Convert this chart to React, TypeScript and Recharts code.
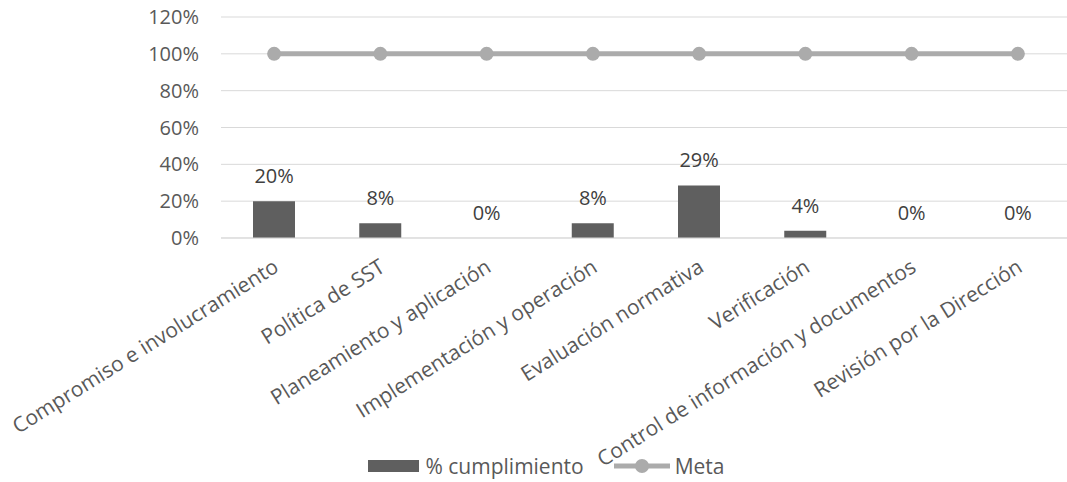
import React from "react";
import {
  ComposedChart,
  Bar,
  Line,
  XAxis,
  YAxis,
  CartesianGrid,
  Legend,
  LabelList,
} from "recharts";

const categories = [
  "Compromiso e involucramiento",
  "Política de SST",
  "Planeamiento y aplicación",
  "Implementación y operación",
  "Evaluación normativa",
  "Verificación",
  "Control de información y documentos",
  "Revisión por la Dirección",
];
const cumplimiento = [0.2, 0.08, 0, 0.08, 0.2857, 0.04, 0, 0];
const meta = [1, 1, 1, 1, 1, 1, 1, 1];
const yTicks = [0, 0.2, 0.4, 0.6, 0.8, 1, 1.2];

const data = categories.map((name, i) => ({
  name,
  cumplimiento: cumplimiento[i],
  meta: meta[i],
}));

const FONT = "'Open Sans', 'Segoe UI', sans-serif";
const pct = (v: any) => `${Math.round(Number(v) * 100)}%`;

const XTick = (props: any) => {
  const { x, y, payload } = props;
  return (
    <g transform={`translate(${x - 2},${y + 12}) rotate(-32)`}>
      <text
        x={0}
        y={0}
        dy="0.71em"
        textAnchor="end"
        fill="#595959"
        fontSize={21}
        fontFamily={FONT}
      >
        {payload.value}
      </text>
    </g>
  );
};

const LegendContent = (props: any) => {
  const { payload } = props;
  const items = (payload || []).filter((e: any) => e.type !== "none");
  return (
    <div
      style={{
        display: "flex",
        justifyContent: "center",
        alignItems: "center",
        fontFamily: FONT,
        fontSize: 21,
        color: "#595959",
        paddingLeft: 22,
        paddingTop: 12,
        height: 44,
        boxSizing: "border-box",
      }}
    >
      {items.map((entry: any, i: number) => (
        <div
          key={i}
          style={{ display: "flex", alignItems: "center", marginRight: i === 0 ? 30 : 0 }}
        >
          {entry.type === "rect" ? (
            <svg width={51} height={12} style={{ marginRight: 6 }}>
              <rect x={0} y={0} width={51} height={12} fill={entry.color} />
            </svg>
          ) : (
            <svg width={56} height={16} style={{ marginRight: 5 }}>
              <line x1={0} y1={8} x2={56} y2={8} stroke={entry.color} strokeWidth={5} />
              <circle cx={28} cy={8} r={7} fill={entry.color} />
            </svg>
          )}
          <span>{entry.value}</span>
        </div>
      ))}
    </div>
  );
};

export default function App() {
  return (
    <div
      style={{
        position: "absolute",
        left: 0,
        top: 0,
        width: 1067,
        height: 482,
        overflow: "hidden",
        background: "#fff",
      }}
    >
      <ComposedChart
        width={1071}
        height={482}
        data={data}
        margin={{ top: 17, right: 0, bottom: 0, left: 0 }}
      >
        <CartesianGrid vertical={false} stroke="#d9d9d9" strokeWidth={1} />
        <XAxis
          dataKey="name"
          interval={0}
          tickLine={false}
          axisLine={{ stroke: "#d9d9d9" }}
          height={200}
          tick={<XTick />}
        />
        <YAxis
          width={221}
          domain={[0, 1.2]}
          ticks={yTicks}
          tickFormatter={pct}
          axisLine={false}
          tickLine={false}
          tickSize={0}
          tickMargin={22}
          tick={{ fill: "#595959", fontSize: 20, fontFamily: FONT }}
        />
        <Legend verticalAlign="bottom" height={44} content={<LegendContent />} />
        <Bar
          dataKey="cumplimiento"
          name="% cumplimiento"
          fill="#5f5f5f"
          barSize={42}
          isAnimationActive={false}
          legendType="rect"
        />
        <Line
          dataKey="meta"
          name="Meta"
          type="linear"
          stroke="#ababab"
          strokeWidth={5}
          dot={{ r: 7, fill: "#ababab", stroke: "none" }}
          activeDot={false}
          isAnimationActive={false}
          legendType="line"
        />
        <Line
          dataKey="cumplimiento"
          name="labels"
          stroke="none"
          dot={false}
          activeDot={false}
          isAnimationActive={false}
          legendType="none"
        >
          <LabelList
            dataKey="cumplimiento"
            position="top"
            offset={18}
            formatter={pct}
            fill="#404040"
            fontSize={20}
            fontFamily={FONT}
          />
        </Line>
      </ComposedChart>
    </div>
  );
}
